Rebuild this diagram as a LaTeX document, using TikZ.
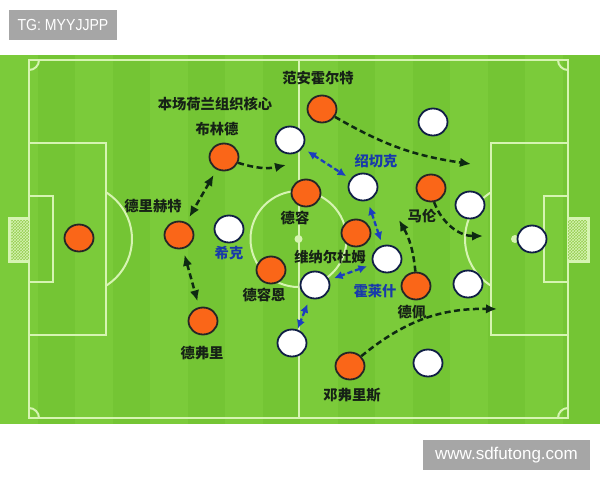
\documentclass[tikz,border=0pt]{standalone}
\usepackage{fontspec}
\usepackage{graphicx}
\setmainfont{Liberation Sans}
\newfontfamily\cjk{Noto Sans CJK SC}[BoldFont={Noto Sans CJK SC Black}]
\usetikzlibrary{shapes.geometric,arrows.meta,patterns}
\definecolor{grassA}{RGB}{116,197,52}
\definecolor{grassB}{RGB}{123,203,58}
\definecolor{fline}{RGB}{214,244,178}
\definecolor{netc}{RGB}{150,205,80}
\definecolor{orng}{RGB}{250,102,24}
\definecolor{navy}{RGB}{16,30,70}
\definecolor{arrdark}{RGB}{14,42,18}
\definecolor{arrblue}{RGB}{28,62,190}
\definecolor{lbldark}{RGB}{22,34,22}
\definecolor{lblblue}{RGB}{24,58,170}
\definecolor{tagg}{RGB}{166,166,166}
\begin{document}
\begin{tikzpicture}[x=1pt,y=-1pt,
 orangep/.style={ellipse,draw=black!85,line width=1.8pt,fill=orng,minimum width=29pt,minimum height=27pt,inner sep=0pt},
 whitep/.style={ellipse,draw=navy,line width=1.8pt,fill=white,minimum width=29pt,minimum height=27pt,inner sep=0pt},
 lbl/.style={font=\cjk\bfseries\fontsize{14.3}{15}\selectfont,text=lbldark,inner sep=0pt},
 lblb/.style={lbl,text=lblblue},
 runarrow/.style={draw=arrdark,line width=2.5pt,dash pattern=on 6pt off 3.5pt,-{Latex[length=11pt,width=9.5pt]}},
 swaparrow/.style={draw=arrdark,line width=2.5pt,dash pattern=on 6pt off 3.5pt,{Latex[length=11pt,width=9.5pt]}-{Latex[length=11pt,width=9.5pt]},shorten <=6pt,shorten >=6pt},
 bluearrow/.style={draw=arrblue,fill=arrblue,line width=2.3pt,dash pattern=on 5pt off 3pt,{Latex[length=8.5pt,width=8.5pt]}-{Latex[length=8.5pt,width=8.5pt]},shorten <=6pt,shorten >=5pt},
 fieldline/.style={draw=fline,line width=2pt},
 tagbox/.style={fill=tagg,text=white,inner sep=0pt,font=\fontsize{16}{18}\selectfont}
]
\useasboundingbox (0,0) rectangle (600,480);
\fill[white] (0,0) rectangle (600,480);
% grass
\fill[grassA] (0,55) rectangle (600,424);
\foreach \i in {0,2,...,14} {\fill[grassB] ({\i*37.5},55) rectangle ({\i*37.5+37.5},424);}
% field lines
\draw[fieldline] (29,60) rectangle (568,418);
\draw[fieldline] (298.5,60) -- (298.5,418);
\draw[fieldline] (298.5,239) circle (48);
\fill[fline] (298.5,239) circle (4);
\draw[fieldline] (29,143) rectangle (106,335);
\draw[fieldline] (29,196) rectangle (53,282);
\draw[fieldline] (491,143) rectangle (568,335);
\draw[fieldline] (544,196) rectangle (568,282);
\fill[netc] (9,218) rectangle (29,261);
\fill[pattern=crosshatch,pattern color=fline] (9,218) rectangle (29,261);
\draw[fieldline,line width=3pt] (29,218) -- (9,218) -- (9,261) -- (29,261);
\fill[netc] (568,218) rectangle (588,261);
\fill[pattern=crosshatch,pattern color=fline] (568,218) rectangle (588,261);
\draw[fieldline,line width=3pt] (568,218) -- (588,218) -- (588,261) -- (568,261);
\begin{scope}
\clip (106,55) rectangle (298,424);
\draw[fieldline] (77,239) circle (55);
\end{scope}
\begin{scope}
\clip (298,55) rectangle (491,424);
\draw[fieldline] (520,239) circle (55);
\end{scope}
\fill[fline] (515,239) circle (4);
\begin{scope}
\clip (29,60) rectangle (568,418);
\draw[fieldline] (29,60) circle (10);
\draw[fieldline] (568,60) circle (10);
\draw[fieldline] (29,418) circle (10);
\draw[fieldline] (568,418) circle (10);
\end{scope}
% tags
\node[tagbox,minimum width=108pt,minimum height=30pt] (tag1) at (63,25) {\scalebox{0.88}[1]{TG: MYYJJPP}};
\node[tagbox,minimum width=167pt,minimum height=30pt,font=\fontsize{17}{19}\selectfont] (tag2) at (506.5,455) {www.sdfutong.com};
% orange players
\node[orangep] (gk) at (79,238) {};
\node[orangep] (deligt) at (179,235) {};
\node[orangep] (blind) at (224,157) {};
\node[orangep] (vananholt) at (322,109) {};
\node[orangep] (dejong) at (306,193) {};
\node[orangep] (deroon) at (271,270) {};
\node[orangep] (wijnaldum) at (356,233) {};
\node[orangep] (malen) at (431,188) {};
\node[orangep] (depay) at (416,286) {};
\node[orangep] (dumfries) at (350,366) {};
\node[orangep] (devrij) at (203,321) {};
% white players
\node[whitep] (w1) at (290,140) {};
\node[whitep] (w2) at (433,122) {};
\node[whitep] (soucek) at (363,187) {};
\node[whitep] (w4) at (470,205) {};
\node[whitep] (wgk) at (532,239) {};
\node[whitep] (schick) at (229,229) {};
\node[whitep] (holes) at (387,259) {};
\node[whitep] (w8) at (315,285) {};
\node[whitep] (w9) at (292,343) {};
\node[whitep] (w10) at (468,284) {};
\node[whitep] (w11) at (428,363) {};
% labels
\node[lbl] (l1) at (318,78) {范安霍尔特};
\node[lbl] (l2) at (215,104) {本场荷兰组织核心};
\node[lbl] (l3) at (217,129) {布林德};
\node[lbl] (l4) at (153,206) {德里赫特};
\node[lbl] (l5) at (295,218) {德容};
\node[lblb] (l6) at (229,253) {希克};
\node[lbl] (l7) at (330,257) {维纳尔杜姆};
\node[lbl] (l8) at (264,295) {德容恩};
\node[lblb] (l9) at (375,291) {霍莱什};
\node[lblb] (l10) at (376,161) {绍切克};
\node[lbl] (l11) at (422,216) {马伦};
\node[lbl] (l12) at (412,312) {德佩};
\node[lbl] (l13) at (202,353) {德弗里};
\node[lbl] (l14) at (352,395) {邓弗里斯};
% free ends
\coordinate (ta) at (286,165);
\coordinate (td) at (471,164);
\coordinate (te) at (483,236);
\coordinate (tf) at (399,220);
\coordinate (tg) at (497,309);
% runs
\draw[runarrow] (blind) to[bend right=15] (ta);
\draw[runarrow] (vananholt) to[bend right=11] (td);
\draw[runarrow] (malen) to[bend right=35] (te);
\draw[runarrow] (depay) to[bend right=12] (tf);
\draw[runarrow] (dumfries) to[bend left=20] (tg);
% swaps
\draw[swaparrow] (blind) -- (deligt);
\draw[swaparrow] (deligt) -- (devrij);
\draw[bluearrow] (w1) -- (soucek);
\draw[bluearrow] (soucek) -- (holes);
\draw[bluearrow] (holes) -- (w8);
\draw[bluearrow,shorten <=6pt,shorten >=1pt] (w8) -- (w9);
\end{tikzpicture}
\end{document}
